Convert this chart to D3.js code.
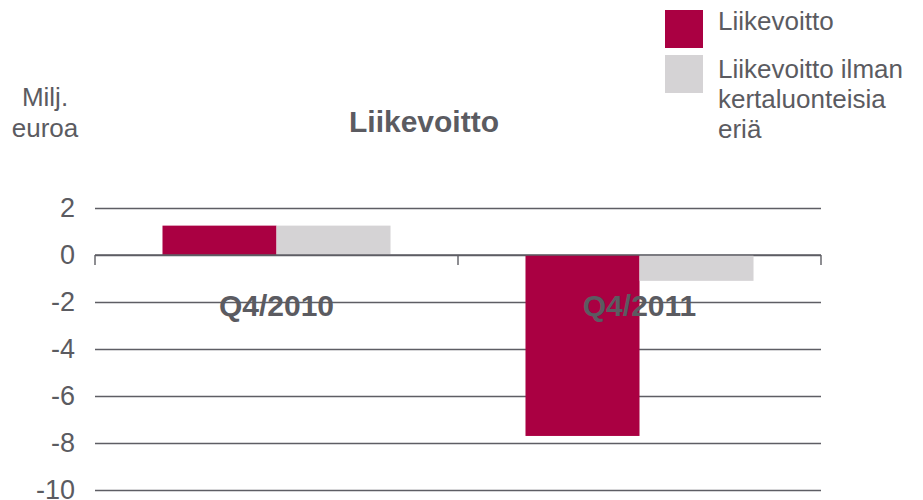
<!DOCTYPE html>
<html>
<head>
<meta charset="utf-8">
<script src="https://cdn.jsdelivr.net/npm/d3@7"></script>
<style>
  body { margin: 0; background: #fff; }
  svg text { font-family: "Liberation Sans", Arial, sans-serif; fill: #5b5b61; }
</style>
</head>
<body>
<div id="chart"></div>
<script>
const categories = ["Q4/2010", "Q4/2011"];
const seriesNames = ["Liikevoitto", "Liikevoitto ilman kertaluonteisia eriä"];
const liikevoitto = [1.25, -7.7];
const ilmanKertaeria = [1.25, -1.1];
const yTicks = [2, 0, -2, -4, -6, -8, -10];

const width = 923, height = 500;
const plotLeft = 95, plotRight = 821, plotTop = 208, plotBottom = 490;
const colors = ["#aa0042", "#d5d3d5"];
const gridColor = "#5e5e64";

const svg = d3.select("#chart").append("svg")
  .attr("width", width)
  .attr("height", height);

const y = d3.scaleLinear().domain([-10, 2]).range([plotBottom, plotTop]);
const x0 = d3.scaleBand().domain(categories).range([plotLeft, plotRight]).padding(0);
const x1 = d3.scaleBand().domain(seriesNames).range([0, x0.bandwidth()])
  .paddingInner(0).paddingOuter(0.592);

// gridlines + tick labels
const yAxis = svg.append("g")
  .attr("transform", `translate(${plotLeft},0)`)
  .call(d3.axisLeft(y).tickValues(yTicks).tickFormat(d => String(d))
    .tickSizeInner(-(plotRight - plotLeft)).tickSizeOuter(0).tickPadding(20));
yAxis.select(".domain").remove();
yAxis.selectAll(".tick line").attr("stroke", gridColor).attr("stroke-width", 1.4);
yAxis.selectAll(".tick text")
  .style("font-size", "27px")
  .attr("fill", "#5b5b61");

// bars
const rows = categories.map((c, i) => ({cat: c, values: [liikevoitto[i], ilmanKertaeria[i]]}));
const groups = svg.selectAll(".grp").data(rows).enter().append("g")
  .attr("transform", d => `translate(${x0(d.cat)},0)`);
groups.selectAll("rect")
  .data(d => d.values.map((v, k) => ({name: seriesNames[k], value: v, k: k})))
  .enter().append("rect")
  .attr("x", d => x1(d.name))
  .attr("width", x1.bandwidth())
  .attr("y", d => y(Math.max(0, d.value)))
  .attr("height", d => Math.abs(y(d.value) - y(0)))
  .attr("fill", d => colors[d.k]);

// zero axis with category tick marks
const y0 = y(0);
svg.append("line")
  .attr("x1", plotLeft).attr("x2", plotRight).attr("y1", y0).attr("y2", y0)
  .attr("stroke", gridColor).attr("stroke-width", 1.4);
const bounds = categories.map(c => x0(c)).concat([x0.range()[1]]);
svg.selectAll(".xtick").data(bounds).enter().append("line")
  .attr("x1", d => d).attr("x2", d => d)
  .attr("y1", y0).attr("y2", y0 + 10)
  .attr("stroke", gridColor).attr("stroke-width", 1.4);

// category labels (drawn over the bars)
svg.selectAll(".cat")
  .data(categories)
  .enter().append("text")
  .attr("class", "cat")
  .attr("x", d => x0(d) + x0.bandwidth() / 2)
  .attr("y", 316)
  .attr("text-anchor", "middle")
  .style("font-size", "30px")
  .style("font-weight", "bold")
  .text(d => d);

// title
svg.append("text")
  .attr("x", 424).attr("y", 132)
  .attr("text-anchor", "middle")
  .style("font-size", "30px")
  .style("font-weight", "bold")
  .text("Liikevoitto");

// unit label
const unit = svg.append("text")
  .attr("text-anchor", "middle")
  .style("font-size", "26px");
unit.append("tspan").attr("x", 45).attr("y", 106).text("Milj.");
unit.append("tspan").attr("x", 45).attr("y", 137).text("euroa");

// legend
const legendLines = [["Liikevoitto"], ["Liikevoitto ilman", "kertaluonteisia", "eriä"]];
const legendY = [10, 55];
const textY = [30, 78];
legendLines.forEach((lines, i) => {
  svg.append("rect")
    .attr("x", 665).attr("y", legendY[i])
    .attr("width", 38).attr("height", 38)
    .attr("fill", colors[i]);
  const t = svg.append("text").style("font-size", "26px");
  lines.forEach((ln, j) => {
    t.append("tspan").attr("x", 718).attr("y", textY[i] + j * 30).text(ln);
  });
});
</script>
</body>
</html>
